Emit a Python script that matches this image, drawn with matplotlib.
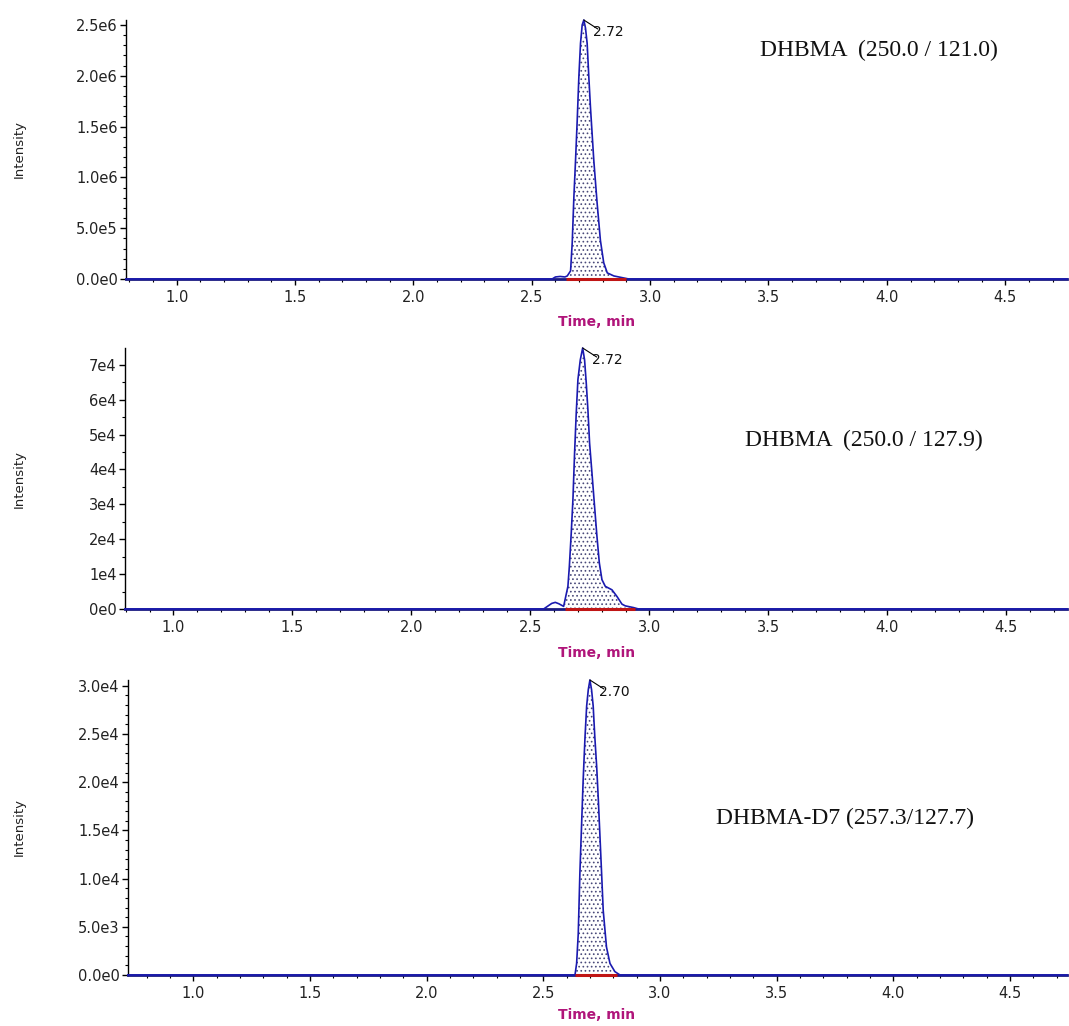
import matplotlib
matplotlib.use("Agg")
import matplotlib.pyplot as plt
from matplotlib.ticker import FixedLocator, FixedFormatter, MultipleLocator

plt.rcParams["hatch.linewidth"] = 0.7

# ---------------- data ----------------
# Panel 1: DHBMA (250.0 / 121.0)
p1_time = [0.786, 2.586, 2.600, 2.620, 2.640, 2.650, 2.664, 2.671, 2.678, 2.685, 2.692, 2.699,
           2.706, 2.713, 2.720, 2.727, 2.734, 2.741, 2.748, 2.762, 2.776, 2.790, 2.804,
           2.819, 2.847, 2.889, 2.910, 4.761]
p1_int = [0, 0, 0.02e6, 0.025e6, 0.02e6, 0.03e6, 0.08e6, 0.36e6, 0.81e6, 1.17e6, 1.56e6, 1.99e6,
          2.32e6, 2.50e6, 2.549e6, 2.47e6, 2.32e6, 1.99e6, 1.69e6, 1.17e6, 0.75e6, 0.38e6, 0.16e6,
          0.06e6, 0.03e6, 0.01e6, 0, 0]
p1_integration = (2.645, 2.900)
p1_rt = 2.72

# Panel 2: DHBMA (250.0 / 127.9)
p2_time = [0.797, 2.556, 2.575, 2.590, 2.605, 2.620, 2.640, 2.658, 2.664, 2.672, 2.679, 2.686,
           2.693, 2.700, 2.710, 2.720, 2.728, 2.735, 2.742, 2.749, 2.759, 2.770, 2.780,
           2.790, 2.801, 2.815, 2.829, 2.843, 2.864, 2.885, 2.899, 2.934, 2.955, 4.755]
p2_int = [0, 0, 0.9e3, 1.6e3, 1.9e3, 1.5e3, 0.75e3, 6.5e3, 12.2e3, 21.8e3, 31.3e3, 44.7e3,
          56.2e3, 65.7e3, 71.4e3, 74.8e3, 71.4e3, 64.8e3, 57.1e3, 47.6e3, 39.0e3, 29.4e3, 20.8e3,
          13.2e3, 8.4e3, 6.5e3, 6.0e3, 5.5e3, 3.6e3, 1.4e3, 0.9e3, 0.4e3, 0, 0]
p2_integration = (2.645, 2.940)
p2_rt = 2.72

# Panel 3: DHBMA-D7 (257.3 / 127.7)
p3_time = [0.720, 2.636, 2.643, 2.650, 2.657, 2.664, 2.671, 2.679, 2.686, 2.693, 2.700, 2.707,
           2.714, 2.721, 2.729, 2.736, 2.743, 2.750, 2.757, 2.771, 2.786, 2.807, 2.829, 4.745]
p3_int = [0, 0, 1.2e3, 4.3e3, 10.6e3, 15.4e3, 20.2e3, 24.7e3, 27.9e3, 29.6e3, 30.6e3, 29.6e3,
          27.9e3, 24.7e3, 21.6e3, 18.2e3, 14.4e3, 10.6e3, 6.7e3, 2.9e3, 1.2e3, 0.35e3, 0, 0]
p3_integration = (2.635, 2.815)
p3_rt = 2.70

x_ticks = [1.0, 1.5, 2.0, 2.5, 3.0, 3.5, 4.0, 4.5]
x_ticklabels = ["1.0", "1.5", "2.0", "2.5", "3.0", "3.5", "4.0", "4.5"]

p1_yticks = [0, 0.5e6, 1.0e6, 1.5e6, 2.0e6, 2.5e6]
p1_yticklabels = ["0.0e0", "5.0e5", "1.0e6", "1.5e6", "2.0e6", "2.5e6"]
p2_yticks = [0, 1e4, 2e4, 3e4, 4e4, 5e4, 6e4, 7e4]
p2_yticklabels = ["0e0", "1e4", "2e4", "3e4", "4e4", "5e4", "6e4", "7e4"]
p3_yticks = [0, 5e3, 1.0e4, 1.5e4, 2.0e4, 2.5e4, 3.0e4]
p3_yticklabels = ["0.0e0", "5.0e3", "1.0e4", "1.5e4", "2.0e4", "2.5e4", "3.0e4"]

titles = ["DHBMA  (250.0 / 121.0)", "DHBMA  (250.0 / 127.9)", "DHBMA-D7 (257.3/127.7)"]

# ---------------- layout ----------------
W, H = 1069, 1026
fig = plt.figure(figsize=(W / 100, H / 100), dpi=100)

panels = [
    dict(t=p1_time, y=p1_int, integ=p1_integration, rt=p1_rt,
         yt=p1_yticks, ytl=p1_yticklabels, ymin_minor=1e5, ylim=2.549e6,
         box=(126, 20, 1067, 279), xlim=(0.786, 4.761), title=titles[0],
         tpos=(760, 50), xlab_y=322),
    dict(t=p2_time, y=p2_int, integ=p2_integration, rt=p2_rt,
         yt=p2_yticks, ytl=p2_yticklabels, ymin_minor=5e3, ylim=7.48e4,
         box=(125, 348, 1067, 609), xlim=(0.797, 4.755), title=titles[1],
         tpos=(745, 440), xlab_y=653),
    dict(t=p3_time, y=p3_int, integ=p3_integration, rt=p3_rt,
         yt=p3_yticks, ytl=p3_yticklabels, ymin_minor=1e3, ylim=3.06e4,
         box=(128, 680, 1067, 975), xlim=(0.720, 4.745), title=titles[2],
         tpos=(716, 818), xlab_y=1015),
]

trace_color = "#1a1ab0"
for p in panels:
    l, tp, r, b = p["box"]
    ax = fig.add_axes([l / W, 1 - b / H, (r - l) / W, (b - tp) / H])
    ax.set_xlim(*p["xlim"])
    ax.set_ylim(0, p["ylim"])
    for s in ["top", "right"]:
        ax.spines[s].set_visible(False)
    ax.spines["left"].set_linewidth(1.0)
    ax.spines["bottom"].set_color("#1a1a80")
    ax.spines["bottom"].set_linewidth(2.0)

    t, y = p["t"], p["y"]
    a0, a1 = p["integ"]
    ax.fill_between(t, y, 0, where=[(a0 <= v <= a1) for v in t], interpolate=True,
                    facecolor="white", edgecolor="#4a4a7a", hatch="....", linewidth=0, zorder=2)
    ax.plot(t, y, color=trace_color, lw=1.2, zorder=3, clip_on=False)
    ax.plot([a0, a1], [0, 0], color="#c01515", lw=2.2, zorder=4, clip_on=False,
            solid_capstyle="butt")

    # apex label
    imax = max(range(len(y)), key=lambda i: y[i])
    ax.annotate("", xy=(t[imax], y[imax]), xytext=(14, -9), textcoords="offset pixels",
                arrowprops=dict(arrowstyle="-", color="black", lw=0.8, shrinkA=0, shrinkB=0))
    ax.annotate(f"{p['rt']:.2f}", xy=(t[imax], y[imax]), xytext=(9, -5),
                textcoords="offset pixels", ha="left", va="top", fontsize=10,
                family="DejaVu Sans", color="#111111")

    ax.xaxis.set_major_locator(FixedLocator(x_ticks))
    ax.xaxis.set_major_formatter(FixedFormatter(x_ticklabels))
    ax.xaxis.set_minor_locator(MultipleLocator(0.1))
    ax.yaxis.set_major_locator(FixedLocator(p["yt"]))
    ax.yaxis.set_major_formatter(FixedFormatter(p["ytl"]))
    ax.yaxis.set_minor_locator(MultipleLocator(p["ymin_minor"]))
    ax.tick_params(axis="both", which="major", direction="out", length=4, width=1,
                   labelsize=10.5, colors="black", labelcolor="#222222")
    ax.tick_params(axis="both", which="minor", direction="out", length=2.5, width=0.8)
    ax.tick_params(axis="x", pad=4)
    ax.tick_params(axis="y", pad=2)

    ax.set_ylabel("Intensity", fontsize=9.5, color="#222222", labelpad=0)
    ax.yaxis.set_label_coords(-(l - 26) / (r - l), 0.5)

    fig.text(p["tpos"][0] / W, 1 - p["tpos"][1] / H, p["title"], family="Liberation Serif",
             fontsize=17, ha="left", va="center", color="#111111")
    fig.text(597 / W, 1 - p["xlab_y"] / H, "Time, min", fontsize=10, fontweight="bold",
             color="#b0157a", ha="center", va="center")

fig.savefig("out.png", dpi=100, facecolor="white")
